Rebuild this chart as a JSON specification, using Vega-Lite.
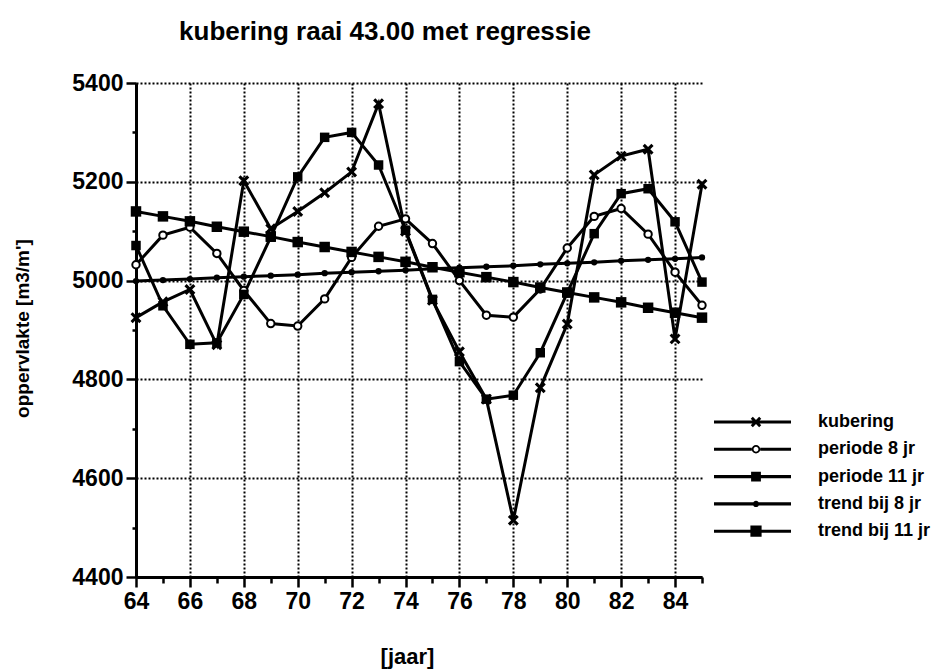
{
  "$schema": "https://vega.github.io/schema/vega-lite/v6.json",
  "width": 566,
  "height": 494,
  "autosize": {"type": "none"},
  "padding": {"left": 136, "top": 83, "right": 239, "bottom": 92},
  "background": "white",
  "title": {
    "text": "kubering  raai  43.00  met  regressie",
    "font": "Liberation Sans",
    "fontSize": 26,
    "fontWeight": "bold",
    "color": "black",
    "anchor": "middle",
    "frame": "group",
    "dx": -34,
    "offset": 27
  },
  "config": {
    "view": {"stroke": null},
    "axis": {
      "labelFont": "Liberation Sans",
      "labelFontWeight": "bold",
      "labelColor": "black",
      "titleFont": "Liberation Sans",
      "titleFontWeight": "bold",
      "titleColor": "black",
      "domainColor": "black",
      "domainWidth": 3,
      "tickColor": "black",
      "tickWidth": 2.5,
      "gridColor": "black",
      "gridDash": [2, 2],
      "gridWidth": 2,
      "labelFlush": false,
      "labelOverlap": false
    }
  },
  "data": {
    "values": [
      {"jaar": 64, "serie": "kubering", "waarde": 4925},
      {"jaar": 65, "serie": "kubering", "waarde": 4957},
      {"jaar": 66, "serie": "kubering", "waarde": 4982},
      {"jaar": 67, "serie": "kubering", "waarde": 4870},
      {"jaar": 68, "serie": "kubering", "waarde": 5202},
      {"jaar": 69, "serie": "kubering", "waarde": 5105},
      {"jaar": 70, "serie": "kubering", "waarde": 5140},
      {"jaar": 71, "serie": "kubering", "waarde": 5178},
      {"jaar": 72, "serie": "kubering", "waarde": 5220},
      {"jaar": 73, "serie": "kubering", "waarde": 5358},
      {"jaar": 74, "serie": "kubering", "waarde": 5100},
      {"jaar": 75, "serie": "kubering", "waarde": 4960},
      {"jaar": 76, "serie": "kubering", "waarde": 4856},
      {"jaar": 77, "serie": "kubering", "waarde": 4760},
      {"jaar": 78, "serie": "kubering", "waarde": 4515},
      {"jaar": 79, "serie": "kubering", "waarde": 4783},
      {"jaar": 80, "serie": "kubering", "waarde": 4912},
      {"jaar": 81, "serie": "kubering", "waarde": 5214},
      {"jaar": 82, "serie": "kubering", "waarde": 5252},
      {"jaar": 83, "serie": "kubering", "waarde": 5266},
      {"jaar": 84, "serie": "kubering", "waarde": 4882},
      {"jaar": 85, "serie": "kubering", "waarde": 5195},

      {"jaar": 64, "serie": "periode 8 jr", "waarde": 5032},
      {"jaar": 65, "serie": "periode 8 jr", "waarde": 5092},
      {"jaar": 66, "serie": "periode 8 jr", "waarde": 5108},
      {"jaar": 67, "serie": "periode 8 jr", "waarde": 5055},
      {"jaar": 68, "serie": "periode 8 jr", "waarde": 4980},
      {"jaar": 69, "serie": "periode 8 jr", "waarde": 4913},
      {"jaar": 70, "serie": "periode 8 jr", "waarde": 4908},
      {"jaar": 71, "serie": "periode 8 jr", "waarde": 4963},
      {"jaar": 72, "serie": "periode 8 jr", "waarde": 5047},
      {"jaar": 73, "serie": "periode 8 jr", "waarde": 5110},
      {"jaar": 74, "serie": "periode 8 jr", "waarde": 5125},
      {"jaar": 75, "serie": "periode 8 jr", "waarde": 5075},
      {"jaar": 76, "serie": "periode 8 jr", "waarde": 5000},
      {"jaar": 77, "serie": "periode 8 jr", "waarde": 4930},
      {"jaar": 78, "serie": "periode 8 jr", "waarde": 4926},
      {"jaar": 79, "serie": "periode 8 jr", "waarde": 4983},
      {"jaar": 80, "serie": "periode 8 jr", "waarde": 5066},
      {"jaar": 81, "serie": "periode 8 jr", "waarde": 5130},
      {"jaar": 82, "serie": "periode 8 jr", "waarde": 5146},
      {"jaar": 83, "serie": "periode 8 jr", "waarde": 5094},
      {"jaar": 84, "serie": "periode 8 jr", "waarde": 5017},
      {"jaar": 85, "serie": "periode 8 jr", "waarde": 4950},

      {"jaar": 64, "serie": "periode 11 jr", "waarde": 5071},
      {"jaar": 65, "serie": "periode 11 jr", "waarde": 4949},
      {"jaar": 66, "serie": "periode 11 jr", "waarde": 4871},
      {"jaar": 67, "serie": "periode 11 jr", "waarde": 4874},
      {"jaar": 68, "serie": "periode 11 jr", "waarde": 4972},
      {"jaar": 69, "serie": "periode 11 jr", "waarde": 5088},
      {"jaar": 70, "serie": "periode 11 jr", "waarde": 5210},
      {"jaar": 71, "serie": "periode 11 jr", "waarde": 5290},
      {"jaar": 72, "serie": "periode 11 jr", "waarde": 5300},
      {"jaar": 73, "serie": "periode 11 jr", "waarde": 5234},
      {"jaar": 74, "serie": "periode 11 jr", "waarde": 5102},
      {"jaar": 75, "serie": "periode 11 jr", "waarde": 4962},
      {"jaar": 76, "serie": "periode 11 jr", "waarde": 4836},
      {"jaar": 77, "serie": "periode 11 jr", "waarde": 4760},
      {"jaar": 78, "serie": "periode 11 jr", "waarde": 4768},
      {"jaar": 79, "serie": "periode 11 jr", "waarde": 4854},
      {"jaar": 80, "serie": "periode 11 jr", "waarde": 4975},
      {"jaar": 81, "serie": "periode 11 jr", "waarde": 5095},
      {"jaar": 82, "serie": "periode 11 jr", "waarde": 5176},
      {"jaar": 83, "serie": "periode 11 jr", "waarde": 5186},
      {"jaar": 84, "serie": "periode 11 jr", "waarde": 5119},
      {"jaar": 85, "serie": "periode 11 jr", "waarde": 4997},

      {"jaar": 64, "serie": "trend bij 8 jr", "waarde": 4999},
      {"jaar": 65, "serie": "trend bij 8 jr", "waarde": 5001},
      {"jaar": 66, "serie": "trend bij 8 jr", "waarde": 5003},
      {"jaar": 67, "serie": "trend bij 8 jr", "waarde": 5006},
      {"jaar": 68, "serie": "trend bij 8 jr", "waarde": 5008},
      {"jaar": 69, "serie": "trend bij 8 jr", "waarde": 5010},
      {"jaar": 70, "serie": "trend bij 8 jr", "waarde": 5012},
      {"jaar": 71, "serie": "trend bij 8 jr", "waarde": 5015},
      {"jaar": 72, "serie": "trend bij 8 jr", "waarde": 5017},
      {"jaar": 73, "serie": "trend bij 8 jr", "waarde": 5019},
      {"jaar": 74, "serie": "trend bij 8 jr", "waarde": 5021},
      {"jaar": 75, "serie": "trend bij 8 jr", "waarde": 5024},
      {"jaar": 76, "serie": "trend bij 8 jr", "waarde": 5026},
      {"jaar": 77, "serie": "trend bij 8 jr", "waarde": 5028},
      {"jaar": 78, "serie": "trend bij 8 jr", "waarde": 5030},
      {"jaar": 79, "serie": "trend bij 8 jr", "waarde": 5033},
      {"jaar": 80, "serie": "trend bij 8 jr", "waarde": 5035},
      {"jaar": 81, "serie": "trend bij 8 jr", "waarde": 5037},
      {"jaar": 82, "serie": "trend bij 8 jr", "waarde": 5040},
      {"jaar": 83, "serie": "trend bij 8 jr", "waarde": 5042},
      {"jaar": 84, "serie": "trend bij 8 jr", "waarde": 5044},
      {"jaar": 85, "serie": "trend bij 8 jr", "waarde": 5047},

      {"jaar": 64, "serie": "trend bij 11 jr", "waarde": 5140},
      {"jaar": 65, "serie": "trend bij 11 jr", "waarde": 5130},
      {"jaar": 66, "serie": "trend bij 11 jr", "waarde": 5120},
      {"jaar": 67, "serie": "trend bij 11 jr", "waarde": 5109},
      {"jaar": 68, "serie": "trend bij 11 jr", "waarde": 5099},
      {"jaar": 69, "serie": "trend bij 11 jr", "waarde": 5089},
      {"jaar": 70, "serie": "trend bij 11 jr", "waarde": 5078},
      {"jaar": 71, "serie": "trend bij 11 jr", "waarde": 5068},
      {"jaar": 72, "serie": "trend bij 11 jr", "waarde": 5058},
      {"jaar": 73, "serie": "trend bij 11 jr", "waarde": 5048},
      {"jaar": 74, "serie": "trend bij 11 jr", "waarde": 5038},
      {"jaar": 75, "serie": "trend bij 11 jr", "waarde": 5027},
      {"jaar": 76, "serie": "trend bij 11 jr", "waarde": 5017},
      {"jaar": 77, "serie": "trend bij 11 jr", "waarde": 5007},
      {"jaar": 78, "serie": "trend bij 11 jr", "waarde": 4997},
      {"jaar": 79, "serie": "trend bij 11 jr", "waarde": 4986},
      {"jaar": 80, "serie": "trend bij 11 jr", "waarde": 4976},
      {"jaar": 81, "serie": "trend bij 11 jr", "waarde": 4966},
      {"jaar": 82, "serie": "trend bij 11 jr", "waarde": 4956},
      {"jaar": 83, "serie": "trend bij 11 jr", "waarde": 4945},
      {"jaar": 84, "serie": "trend bij 11 jr", "waarde": 4935},
      {"jaar": 85, "serie": "trend bij 11 jr", "waarde": 4925}
    ]
  },
  "encoding": {
    "x": {
      "field": "jaar",
      "type": "quantitative",
      "scale": {"domain": [64, 85], "nice": false, "zero": false},
      "axis": {
        "values": [64, 65, 66, 67, 68, 69, 70, 71, 72, 73, 74, 75, 76, 77, 78, 79, 80, 81, 82, 83, 84, 85],
        "labelExpr": "datum.value % 2 === 0 ? datum.label : ''",
        "labelFontSize": 23,
        "labelPadding": 3,
        "tickSize": {"condition": {"test": "datum.value % 2 === 0", "value": 10}, "value": 6},
        "grid": true,
        "gridOpacity": {"condition": {"test": "datum.value % 2 === 0 && datum.value < 85", "value": 1}, "value": 0},
        "title": "[jaar]",
        "titleFontSize": 22,
        "titleX": 271,
        "titleY": 86,
        "titleBaseline": "alphabetic",
        "titleAnchor": "middle"
      }
    },
    "y": {
      "field": "waarde",
      "type": "quantitative",
      "scale": {"domain": [4400, 5400], "nice": false, "zero": false},
      "axis": {
        "values": [4400, 4500, 4600, 4700, 4800, 4900, 5000, 5100, 5200, 5300, 5400],
        "format": "d",
        "labelExpr": "datum.value % 200 === 0 ? datum.label : ''",
        "labelFontSize": 23,
        "labelPadding": 3,
        "tickSize": {"condition": {"test": "datum.value % 200 === 0", "value": 10}, "value": 4},
        "grid": true,
        "gridOpacity": {"condition": {"test": "datum.value % 200 === 0", "value": 1}, "value": 0},
        "title": "oppervlakte  [m3/m']",
        "titleFontSize": 19,
        "titleAngle": -90,
        "titleX": -108,
        "titleY": 245,
        "titleBaseline": "alphabetic",
        "titleAnchor": "middle"
      }
    }
  },
  "layer": [
    {
      "mark": {"type": "line", "strokeWidth": 3},
      "encoding": {
        "color": {
          "field": "serie",
          "type": "nominal",
          "scale": {
            "domain": ["kubering", "periode 8 jr", "periode 11 jr", "trend bij 8 jr", "trend bij 11 jr"],
            "range": ["black", "black", "black", "black", "black"]
          },
          "legend": {
            "orient": "none",
            "legendX": 611,
            "legendY": 330,
            "title": null,
            "padding": 0,
            "symbolSize": 196,
            "labelOffset": 53,
            "labelFont": "Liberation Sans",
            "labelFontSize": 18,
            "labelFontWeight": "bold",
            "labelColor": "black",
            "rowPadding": 9.3,
            "symbolStrokeWidth": 0,
            "symbolFillColor": "black",
            "encode": {
              "symbols": {
                "update": {
                  "shape": {"signal": "datum.value === 'kubering' ? 'M-6,-0.22H5V0.22H-6Z M-0.75,-0.45L-0.45,-0.75L0,-0.3L0.45,-0.75L0.75,-0.45L0.3,0L0.75,0.45L0.45,0.75L0,0.3L-0.45,0.75L-0.75,0.45L-0.3,0Z' : datum.value === 'periode 8 jr' ? 'M-6,-0.22H-0.6V0.22H-6Z M0.6,-0.22H5V0.22H0.6Z M0.6,0A0.6,0.6 0 1,1 -0.6,0A0.6,0.6 0 1,1 0.6,0Z M0.35,0A0.35,0.35 0 1,0 -0.35,0A0.35,0.35 0 1,0 0.35,0Z' : datum.value === 'periode 11 jr' ? 'M-6,-0.22H5V0.22H-6Z M-0.7,-0.7H0.7V0.7H-0.7Z' : datum.value === 'trend bij 8 jr' ? 'M-6,-0.22H5V0.22H-6Z M0.45,0A0.45,0.45 0 1,1 -0.45,0A0.45,0.45 0 1,1 0.45,0Z' : 'M-6,-0.22H5V0.22H-6Z M-0.8,-0.8H0.8V0.8H-0.8Z'"},
                  "fill": {"value": "black"},
                  "fillOpacity": {"value": 1},
                  "stroke": {"value": "transparent"},
                  "strokeWidth": {"value": 0},
                  "opacity": {"value": 1}
                }
              }
            }
          }
        }
      }
    },
    {
      "transform": [{"filter": "datum.serie === 'kubering'"}],
      "mark": {"type": "point", "shape": "M-1,-0.6L-0.6,-1L0,-0.4L0.6,-1L1,-0.6L0.4,0L1,0.6L0.6,1L0,0.4L-0.6,1L-1,0.6L-0.4,0Z", "filled": true, "color": "black", "size": 120, "opacity": 1}
    },
    {
      "transform": [{"filter": "datum.serie === 'periode 8 jr'"}],
      "mark": {"type": "point", "shape": "circle", "filled": true, "fill": "white", "stroke": "black", "strokeWidth": 2, "size": 55, "opacity": 1}
    },
    {
      "transform": [{"filter": "datum.serie === 'periode 11 jr'"}],
      "mark": {"type": "point", "shape": "square", "filled": true, "color": "black", "size": 90, "opacity": 1}
    },
    {
      "transform": [{"filter": "datum.serie === 'trend bij 8 jr'"}],
      "mark": {"type": "point", "shape": "circle", "filled": true, "color": "black", "size": 40, "opacity": 1}
    },
    {
      "transform": [{"filter": "datum.serie === 'trend bij 11 jr'"}],
      "mark": {"type": "point", "shape": "square", "filled": true, "color": "black", "size": 110, "opacity": 1}
    }
  ]
}
